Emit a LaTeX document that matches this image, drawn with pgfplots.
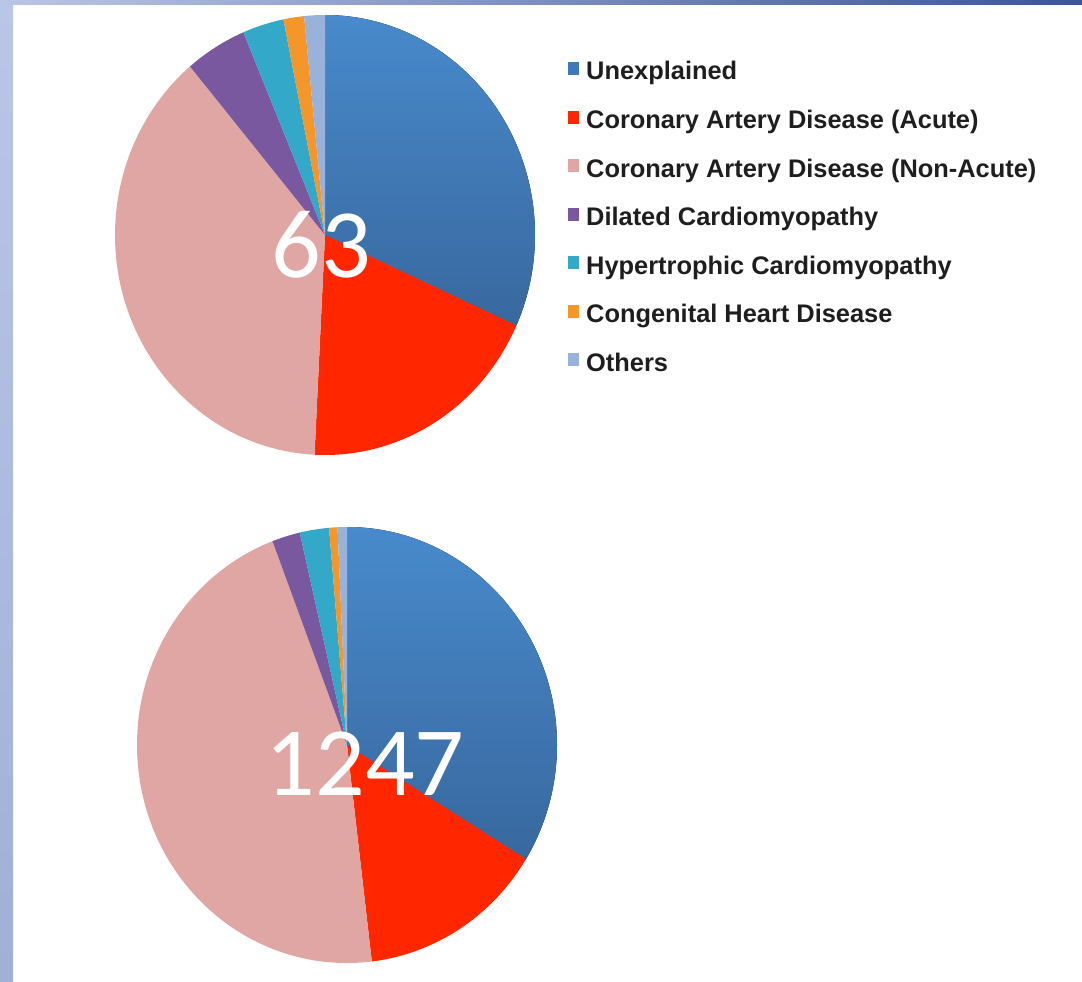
\documentclass[border=0pt]{standalone}
\usepackage{pgfplots}
\usepackage{pgfplotstable}
\pgfplotsset{compat=1.18}
\usepackage{fontspec}
\setmainfont{Liberation Sans}
\newfontfamily\numfont{Carlito}

% slice colours
\definecolor{cUnexpl}{RGB}{62,122,186}
\definecolor{cUnexplTop}{RGB}{72,138,204}
\definecolor{cUnexplBot}{RGB}{56,104,158}
\definecolor{cCADa}{RGB}{255,38,0}
\definecolor{cCADn}{RGB}{224,166,164}
\definecolor{cDCM}{RGB}{122,88,160}
\definecolor{cHCM}{RGB}{52,168,200}
\definecolor{cCHD}{RGB}{245,150,42}
\definecolor{cOther}{RGB}{152,178,220}
\definecolor{legtext}{RGB}{30,30,30}

\tikzset{
  slice0/.style={top color=cUnexplTop, bottom color=cUnexplBot},
  slice1/.style={fill=cCADa},
  slice2/.style={fill=cCADn},
  slice3/.style={fill=cDCM},
  slice4/.style={fill=cHCM},
  slice5/.style={fill=cCHD},
  slice6/.style={fill=cOther},
}

% counts per cause: unexplained, CAD acute, CAD non-acute, DCM, HCM, CHD, others
\pgfplotstableread{
value
20
12
24
3
2
1
1
}\tabSmall

\pgfplotstableread{
value
421
179
575
27
28
8
9
}\tabLarge

% #1 table, #2 total, #3 x radius, #4 y radius
\newcommand\drawpie[4]{%
  \pgfmathsetmacro\cumval{0}%
  \pgfplotsforeachungrouped \k in {0,...,6}{%
    \pgfplotstablegetelem{\k}{value}\of{#1}%
    \let\v\pgfplotsretval
    \pgfmathsetmacro\angA{90-360*(\cumval/#2)}%
    \pgfmathsetmacro\cumval{\cumval+\v}%
    \pgfmathsetmacro\angB{90-360*(\cumval/#2)}%
    \edef\slicecmd{\noexpand\fill[slice\k] (axis cs:0,0) -- (axis cs:{cos(\angA)},{sin(\angA)})
      arc[start angle=\angA, end angle=\angB, x radius=#3, y radius=#4] -- cycle;}%
    \slicecmd
  }%
}

\pgfplotsset{pieaxis/.style={
  hide axis, xmin=-1, xmax=1, ymin=-1, ymax=1, anchor=origin, clip=false}}

\begin{document}
\begin{tikzpicture}
\useasboundingbox (0,0) rectangle (1082pt,-982pt);
\fill[white] (0,0) rectangle (1082pt,-982pt);
% slide frame
\shade[top color={rgb,255:red,186;green,198;blue,230}, bottom color={rgb,255:red,160;green,176;blue,214}]
  (0,0) rectangle (13pt,-982pt);
\shade[left color={rgb,255:red,186;green,198;blue,230}, middle color={rgb,255:red,170;green,184;blue,222}, right color={rgb,255:red,60;green,86;blue,148}]
  (0,0) rectangle (1082pt,-5pt);

\begin{axis}[pieaxis, x=210pt, y=220pt, at={(325pt,-235pt)}]
  \drawpie{\tabSmall}{63}{210pt}{220pt}
\end{axis}

\begin{axis}[pieaxis, x=210pt, y=218pt, at={(347pt,-745pt)}]
  \drawpie{\tabLarge}{1247}{210pt}{218pt}
\end{axis}

\node[anchor=base, text=white, inner sep=0pt, font=\numfont\fontsize{98}{98}\selectfont] at (321pt,-277pt) {63};
\node[anchor=base, text=white, inner sep=0pt, font=\numfont\fontsize{98}{98}\selectfont] at (365pt,-795pt) {1247};

% legend
\foreach \name/\col [count=\r from 0] in {Unexplained/cUnexpl,
  Coronary Artery Disease (Acute)/cCADa,
  Coronary Artery Disease (Non-Acute)/cCADn,
  Dilated Cardiomyopathy/cDCM,
  Hypertrophic Cardiomyopathy/cHCM,
  Congenital Heart Disease/cCHD,
  Others/cOther}{
  \pgfmathsetmacro\yb{-80-48.5*\r}
  \fill[\col] (568pt,\yb pt+18pt) rectangle (579pt,\yb pt+5pt);
  \node[anchor=base west, inner sep=0pt, text=legtext, font=\bfseries\fontsize{25.4}{25.4}\selectfont] at (586pt,\yb pt) {\name};
}
\end{tikzpicture}
\end{document}
